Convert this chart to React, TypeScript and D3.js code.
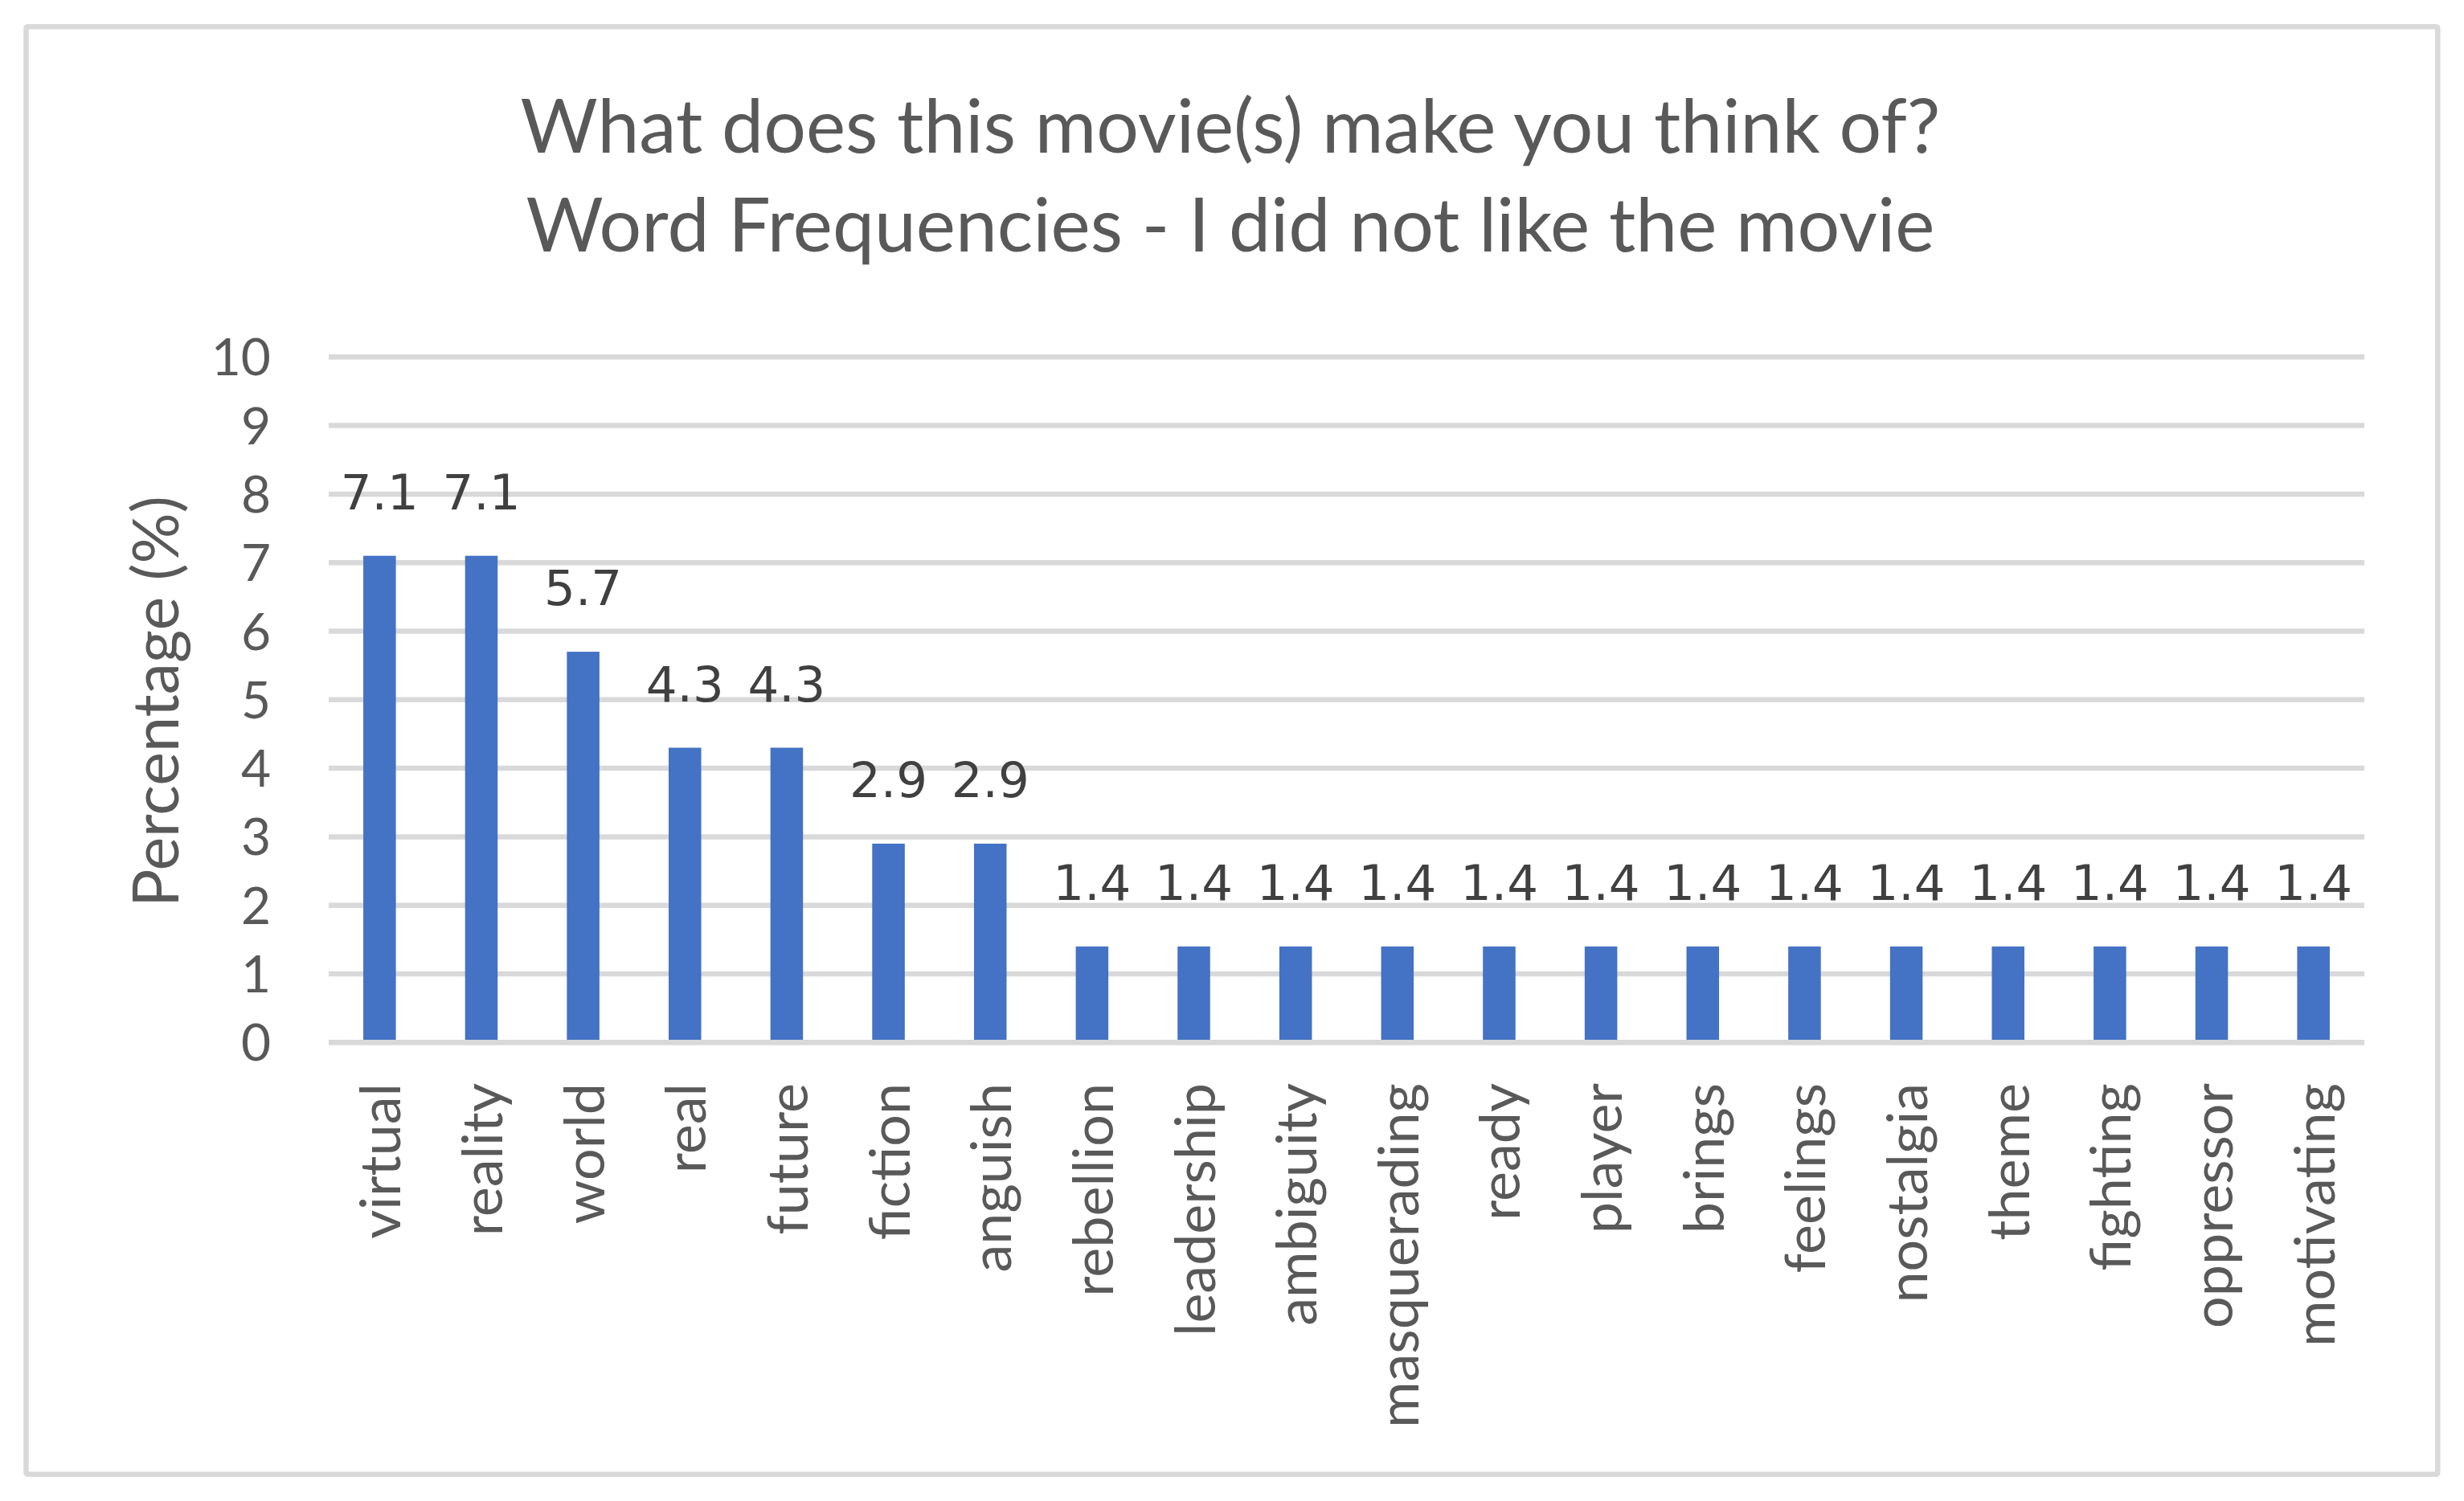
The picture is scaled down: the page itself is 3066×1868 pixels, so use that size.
import React from "react";
import * as d3 from "d3";

const categories = [
  "virtual", "reality", "world", "real", "future", "fiction", "anguish",
  "rebellion", "leadership", "ambiguity", "masquerading", "ready", "player",
  "brings", "feelings", "nostalgia", "theme", "fighting", "oppressor", "motivating",
];
const values = [7.1, 7.1, 5.7, 4.3, 4.3, 2.9, 2.9, 1.4, 1.4, 1.4, 1.4, 1.4, 1.4, 1.4, 1.4, 1.4, 1.4, 1.4, 1.4, 1.4];
const yTicks = [0, 1, 2, 3, 4, 5, 6, 7, 8, 9, 10];
const titleLines = ["What does this movie(s) make you think of?", "Word Frequencies - I did not like the movie"];
const yAxisTitle = "Percentage (%)";

const W = 3066;
const H = 1868;
const FONT = "Lato, 'Open Sans', sans-serif";
const LABEL_FONT = "'DejaVu Sans', Verdana, sans-serif";

export default function App() {
  const x = d3
    .scaleBand<string>()
    .domain(categories)
    .range([409, 2942])
    .paddingInner(0.68)
    .paddingOuter(0.34);
  const y = d3.scaleLinear().domain([0, 10]).range([1297.3, 444.3]);
  const bw = x.bandwidth();

  return (
    <svg
      width={W}
      height={H}
      viewBox={`0 0 ${W} ${H}`}
      style={{ position: "absolute", left: 0, top: 0, background: "#fff" }}
    >
      <rect x={0} y={0} width={W} height={H} fill="#fff" />
      <rect x={32.5} y={33.3} width={3000.8} height={1801.4} fill="#fff" stroke="#d9d9d9" strokeWidth={6.5} rx={2} />

      {titleLines.map((t, i) => (
        <text
          key={i}
          x={1531}
          y={190 + i * 123}
          textAnchor="middle"
          fontFamily={FONT}
          fontSize={93}
          fill="#595959"
        >
          {t}
        </text>
      ))}

      {yTicks.map((t) => (
        <g key={t}>
          <line x1={409} x2={2942} y1={y(t)} y2={y(t)} stroke="#d9d9d9" strokeWidth={6.5} />
          <text
            x={337}
            y={y(t)}
            dy="0.36em"
            textAnchor="end"
            fontFamily={FONT}
            fontSize={64}
            fill="#595959"
          >
            {t}
          </text>
        </g>
      ))}

      {categories.map((c, i) => (
        <rect key={c} x={x(c)} y={y(values[i])} width={bw} height={y(0) - y(values[i])} fill="#4472c4" />
      ))}

      <line x1={409} x2={2942} y1={y(0)} y2={y(0)} stroke="#d9d9d9" strokeWidth={6.5} />

      {categories.map((c, i) => (
        <text
          key={"v" + c}
          x={(x(c) as number) + bw / 2}
          y={y(values[i]) - 58}
          textAnchor="middle"
          fontFamily={LABEL_FONT}
          fontSize={61}
          fill="#404040"
        >
          {values[i].toFixed(1)}
        </text>
      ))}

      {categories.map((c) => (
        <text
          key={"l" + c}
          transform={`translate(${(x(c) as number) + bw / 2 + 26},1348) rotate(-90)`}
          textAnchor="end"
          fontFamily={FONT}
          fontSize={70}
          fill="#595959"
        >
          {c}
        </text>
      ))}

      <text
        transform="translate(222,873) rotate(-90)"
        textAnchor="middle"
        fontFamily={FONT}
        fontSize={79}
        fill="#595959"
      >
        {yAxisTitle}
      </text>
    </svg>
  );
}
